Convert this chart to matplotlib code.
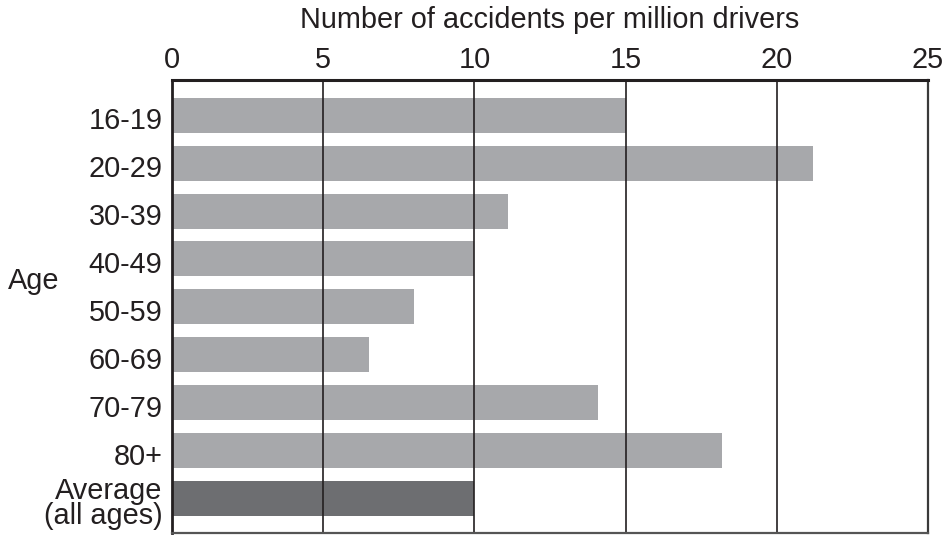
import matplotlib
matplotlib.use("Agg")
import matplotlib.pyplot as plt
import matplotlib.transforms as mtransforms
import numpy as np

categories = ["16-19", "20-29", "30-39", "40-49", "50-59", "60-69", "70-79", "80+", "Average\n(all ages)"]
values = [15.0, 21.2, 11.1, 10.0, 8.0, 6.5, 14.1, 18.2, 10.0]
bar_colors = ["#a7a8ab"] * 8 + ["#6d6e71"]
xticks = [0, 5, 10, 15, 20, 25]

plt.rcParams['font.family'] = ['Liberation Sans', 'DejaVu Sans']
txt = "#231f20"
fs = 20.8

fig = plt.figure(figsize=(9.49, 5.40), dpi=100)
ax = fig.add_axes([172/949, 1-533/540, (928-172)/949, (533-80)/540])

y = np.arange(len(categories))
ax.barh(y, values, height=0.73, color=bar_colors, zorder=1)

ax.set_xlim(0, 25)
ax.set_ylim(len(categories) - 1 + 0.72, -0.735)
ax.set_xticks(xticks)
ax.xaxis.tick_top()
ax.xaxis.set_label_position('top')
ax.set_yticks(y)
ax.set_yticklabels(categories, linespacing=0.88)
ax.tick_params(axis='both', length=0, labelsize=fs, labelcolor=txt)
ax.tick_params(axis='x', pad=4.5)
ax.tick_params(axis='y', pad=7)
ax.set_xlabel("Number of accidents per million drivers", fontsize=fs, color=txt, labelpad=13)

# slight downward shift of the row labels, as in the reference
offset = mtransforms.ScaledTranslation(0, -3/100, fig.dpi_scale_trans)
for lab in ax.get_yticklabels():
    lab.set_transform(lab.get_transform() + offset)

for xv in xticks[1:-1]:
    ax.axvline(xv, color="#231f20", lw=1.2, zorder=3)

ax.spines['top'].set_linewidth(2.2)
ax.spines['top'].set_color("#231f20")
ax.spines['left'].set_linewidth(2.0)
ax.spines['left'].set_color("#231f20")
ax.spines['right'].set_linewidth(1.6)
ax.spines['right'].set_color("#3a3a3a")
ax.spines['bottom'].set_linewidth(1.6)
ax.spines['bottom'].set_color("#555555")
for s in ax.spines.values():
    s.set_zorder(4)

fig.text(8/949, 1-281/540, "Age", fontsize=fs, color=txt, ha='left', va='center')

fig.savefig("out.png", dpi=100)
